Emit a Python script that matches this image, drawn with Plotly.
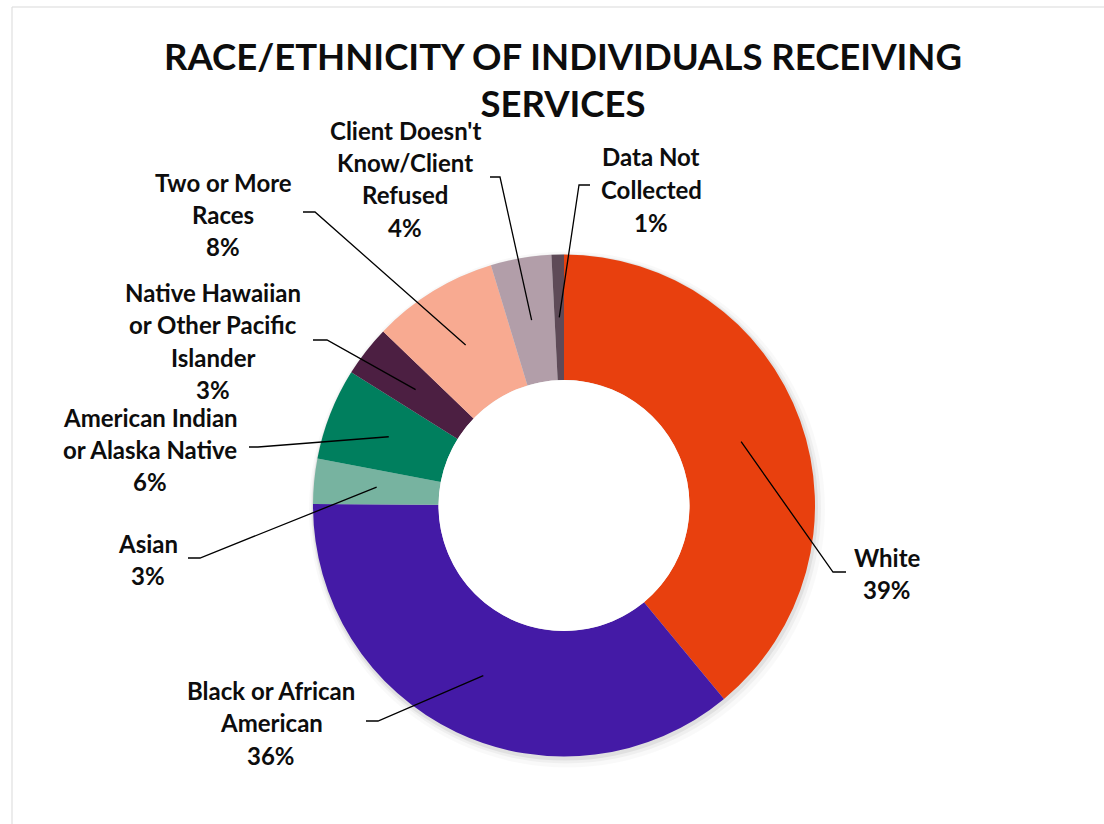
import math
import plotly.graph_objects as go

# Canvas size in pixels
W, H = 1104, 824

# ---- data -------------------------------------------------------------
categories = [
    "White",
    "Black or African American",
    "Asian",
    "American Indian or Alaska Native",
    "Native Hawaiian or Other Pacific Islander",
    "Two or More Races",
    "Client Doesn't Know/Client Refused",
    "Data Not Collected",
]
shares = [39.0, 36.1, 2.9, 5.9, 3.3, 8.1, 3.9, 0.8]

# wrapped label text for each category
label_lines = [
    ["White"],
    ["Black or African", "American"],
    ["Asian"],
    ["American Indian", "or Alaska Native"],
    ["Native Hawaiian", "or Other Pacific", "Islander"],
    ["Two or More", "Races"],
    ["Client Doesn't", "Know/Client", "Refused"],
    ["Data Not", "Collected"],
]

colors = ["#E8400E", "#441AA6", "#77B3A0", "#007F5E",
          "#4C1F42", "#F8AA91", "#B29EA9", "#5E4A57"]

# ---- layout geometry (pixels) ----------------------------------------
CX, CY, R = 564, 505.5, 251
HOLE = 0.5
LINE_GAP = 32.5

# label block: centre x, first-line centre y
label_pos = [(887, 557), (271, 690), (148, 543), (150, 417),
             (213, 292), (223, 182), (405, 130), (651, 157)]
# leader line elbow and end points
elbows = [((833, 572), (846, 572)), ((378, 721), (366, 721)),
          ((200, 558), (188, 558)), ((258, 447), (249, 447)),
          ((327, 340), (313, 340)), ((315, 212), (303, 212)),
          ((500, 177), (490, 177)), ((579, 185), (590, 185))]

FONT = "Lato"


def px(x):
    return x / W


def py(y):
    return 1 - y / H


fig = go.Figure()

fig.add_trace(go.Pie(
    labels=categories,
    values=shares,
    hole=HOLE,
    sort=False,
    direction="clockwise",
    rotation=0,
    marker=dict(colors=colors, line=dict(width=0)),
    textinfo="none",
    hoverinfo="label+percent",
    showlegend=False,
    domain=dict(x=[px(CX - R), px(CX + R)], y=[py(CY + R), py(CY - R)]),
))

shapes = []
# soft shadow around the ring
for grow, dx, dy, alpha in [(7, 3, 4, 0.025), (4, 2, 3, 0.04), (2, 1, 2, 0.06)]:
    rr = R + grow
    shapes.append(dict(
        type="circle", xref="paper", yref="paper", layer="below",
        x0=px(CX + dx - rr), x1=px(CX + dx + rr),
        y0=py(CY + dy + rr), y1=py(CY + dy - rr),
        fillcolor=f"rgba(0,0,0,{alpha})", line=dict(width=0),
    ))
# keep the hole clean
rh = R * HOLE
shapes.append(dict(
    type="circle", xref="paper", yref="paper", layer="above",
    x0=px(CX - rh), x1=px(CX + rh), y0=py(CY + rh), y1=py(CY - rh),
    fillcolor="white", line=dict(width=0),
))

# chart-area frame
shapes.append(dict(type="path", xref="paper", yref="paper",
                   path=f"M {px(W + 5)},{py(7)} L {px(12)},{py(7)} L {px(12)},{py(H + 5)}",
                   line=dict(color="#D9D9D9", width=1)))

annotations = []
total = sum(shares)
r_mid = R * (1 + HOLE) / 2
cum = 0.0
for i, v in enumerate(shares):
    ang = math.radians((cum + v / 2) / total * 360)
    cum += v
    tip_x = CX + r_mid * math.sin(ang)
    tip_y = CY - r_mid * math.cos(ang)
    (bx, by), (ex, ey) = elbows[i]
    shapes.append(dict(
        type="path", xref="paper", yref="paper",
        path=f"M {px(tip_x)},{py(tip_y)} L {px(bx)},{py(by)} L {px(ex)},{py(ey)}",
        line=dict(color="black", width=1.3),
    ))
    lx, ly = label_pos[i]
    lines = label_lines[i] + [f"{round(v / total * 100)}%"]
    for k, txt in enumerate(lines):
        annotations.append(dict(
            text=txt, x=px(lx), y=py(ly + k * LINE_GAP),
            xref="paper", yref="paper", xanchor="center", yanchor="middle",
            showarrow=False,
            font=dict(family=FONT, size=24, color="#0D0D0D", weight="bold"),
        ))

fig.update_layout(
    width=W, height=H,
    margin=dict(l=0, r=0, t=0, b=0),
    paper_bgcolor="white",
    plot_bgcolor="white",
    title=dict(
        text="RACE/ETHNICITY OF INDIVIDUALS RECEIVING<br>SERVICES",
        x=px(563), xanchor="center",
        y=py(70), yanchor="middle",
        font=dict(family=FONT, size=36.5, color="#0D0D0D", weight="bold"),
    ),
    shapes=shapes,
    annotations=annotations,
)

fig.write_html("out.html")
